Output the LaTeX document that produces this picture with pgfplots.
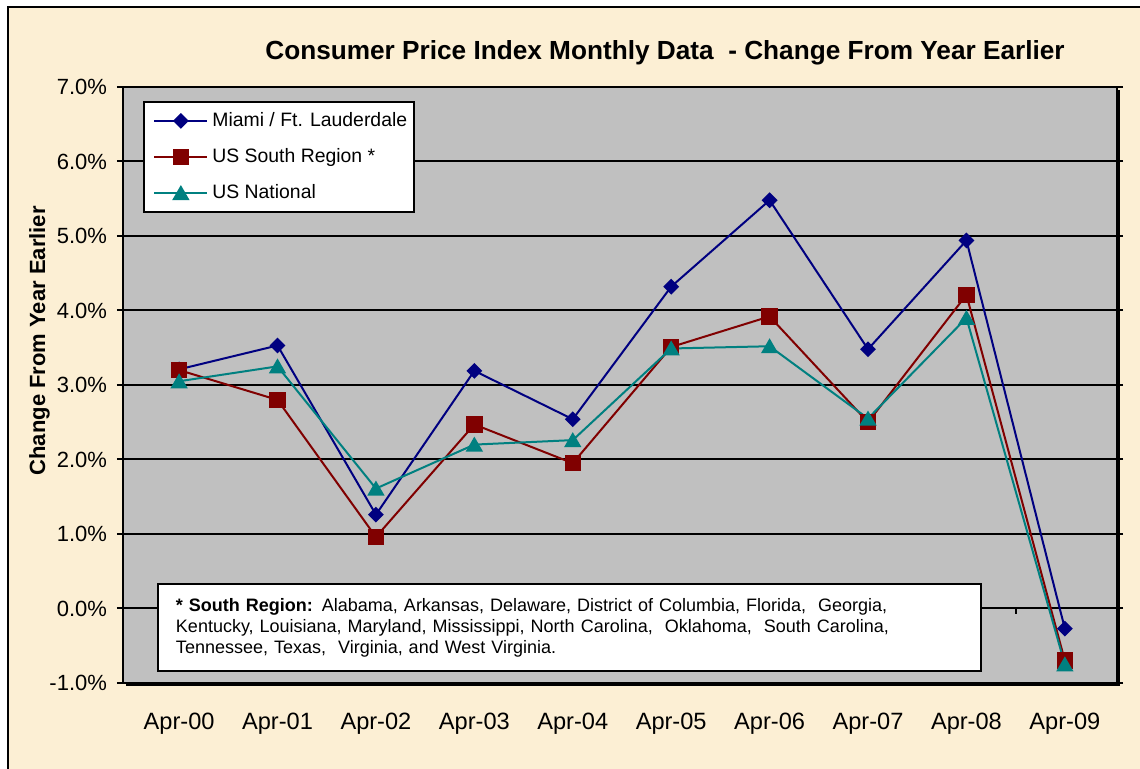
\documentclass[border=0pt]{standalone}
\usepackage{fontspec}
\setmainfont{Liberation Sans}
\usepackage{pgfplots}
\pgfplotsset{compat=1.18}

\definecolor{parchment}{HTML}{FCEFD4}
\definecolor{plotgray}{HTML}{C0C0C0}
\definecolor{miami}{HTML}{000080}
\definecolor{south}{HTML}{800000}
\definecolor{natl}{HTML}{008080}

\pgfplotstableread{
x miami south natl
0  3.21  3.20  3.05
1  3.53  2.80  3.25
2  1.26  0.96  1.61
3  3.19  2.47  2.20
4  2.54  1.95  2.26
5  4.32  3.51  3.49
6  5.48  3.92  3.52
7  3.48  2.50  2.55
8  4.94  4.21  3.90
9  -0.27 -0.70 -0.75
}\cpidata

\begin{document}
\begin{tikzpicture}
\useasboundingbox (0,0) rectangle (570pt,384.5pt);
\clip (0,0) rectangle (570pt,384.5pt);
\fill[white] (0,0) rectangle (570pt,384.5pt);
\fill[parchment] (4pt,-10pt) rectangle (600pt,381pt);
\draw[line width=1pt] (4pt,-10pt) |- (600pt,381pt);
% shadow of the plot area
\fill[black] (63pt,41.5pt) rectangle ++(497pt,298pt);

\node[anchor=base, font=\bfseries\fontsize{13.1}{15}\selectfont] at (332.5pt,354.5pt)
  {Consumer Price Index Monthly Data \ - Change From Year Earlier};

\begin{axis}[
    at={(61.5pt,43pt)}, anchor=south west,
    scale only axis, width=497pt, height=298pt,
    axis background/.style={fill=plotgray},
    axis line style={line width=1.2pt},
    xmin=-0.57, xmax=9.53,
    ymin=-1, ymax=7,
    xtick={0,...,9},
    xticklabels={Apr-00,Apr-01,Apr-02,Apr-03,Apr-04,Apr-05,Apr-06,Apr-07,Apr-08,Apr-09},
    xtick style={draw=none},
    xticklabel style={font=\fontsize{11.8}{13}\selectfont, yshift=-8.5pt},
    ytick={-1,...,7},
    yticklabels={-1.0\%,0.0\%,1.0\%,2.0\%,3.0\%,4.0\%,5.0\%,6.0\%,7.0\%},
    yticklabel style={font=\fontsize{11}{13}\selectfont, xshift=-1.5pt},
    ytick style={black, line width=1pt},
    tick align=outside, major tick length=3pt,
    ymajorgrids, grid style={black, line width=1pt},
    ylabel={Change From Year Earlier},
    ylabel shift=-7pt,
    ylabel style={at={(ticklabel cs:0.574)}, font=\bfseries\fontsize{11}{13}\selectfont},
    legend cell align=left,
    legend image code/.code={\path (-3.5pt,0pt); \draw[mark repeat=2,mark phase=2,#1] plot coordinates {(0pt,0pt)(13.25pt,0pt)(26.5pt,0pt)};},
    legend style={at={(0.0201,0.9765)}, anchor=north west, draw=black, line width=1pt,
        fill=white, font=\fontsize{9.7}{11}\selectfont,
        inner xsep=1.2pt, inner ysep=3.2pt, row sep=5.5pt},
]
\addplot[miami, line width=1pt, mark=square*, mark size=2.3pt, mark options={rotate=45}]
    table[x=x, y=miami] {\cpidata};
\addlegendentry{Miami / Ft. Lauderdale}
\addplot[south, line width=1pt, mark=square*, mark size=3.6pt]
    table[x=x, y=south] {\cpidata};
\addlegendentry{US South Region *}
\addplot[natl, line width=1pt, mark=triangle*, mark size=4pt, mark options={yshift=-1pt}]
    table[x=x, y=natl] {\cpidata};
\addlegendentry{US National}

\draw[line width=1pt] (axis cs:8.5,0) -- ([yshift=-3pt]axis cs:8.5,0);
\node[draw=black, line width=1pt, fill=white, anchor=north west, inner xsep=9pt, inner ysep=0pt,
      minimum height=43.5pt, text width=393.5pt, align=left,
      font=\fontsize{9}{10.5}\selectfont]
  at (rel axis cs:0.0342,0.1678)
  {\textbf{* South Region:} Alabama, Arkansas, Delaware, District of Columbia, Florida, \ Georgia,\\
   Kentucky, Louisiana, Maryland, Mississippi, North Carolina, \ Oklahoma, \ South Carolina,\\
   Tennessee, Texas, \ Virginia, and West Virginia.};
\end{axis}
\end{tikzpicture}
\end{document}
